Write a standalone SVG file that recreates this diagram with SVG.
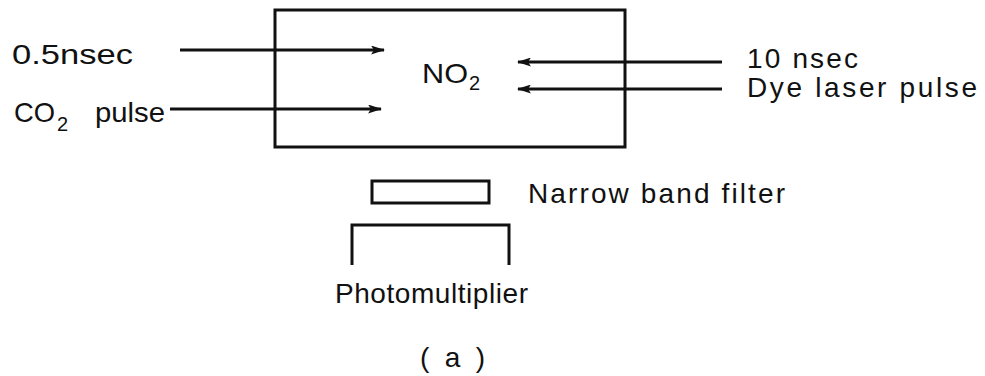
<svg xmlns="http://www.w3.org/2000/svg" width="985" height="376" viewBox="0 0 985 376">
<style>
text{font-family:"Liberation Sans",Arial,sans-serif;fill:#111;font-size:28px}
.sub{font-size:20px}
.ln{stroke:#111;stroke-width:3;fill:none}
</style>
<defs>
<marker id="ah" viewBox="0 0 14 9" refX="13" refY="4.5" markerWidth="14" markerHeight="9" markerUnits="userSpaceOnUse" orient="auto">
<path d="M0,0 L14,4.5 L0,9 L3,4.5 Z" fill="#111"/>
</marker>
</defs>
<rect width="985" height="376" fill="#fff"/>
<g id="cell">
<rect class="ln" x="275" y="10" width="350" height="137"/>
<text x="422" y="83" textLength="46" lengthAdjust="spacingAndGlyphs">NO</text>
<text class="sub" x="469" y="90">2</text>
</g>
<g id="co2-label">
<text x="12" y="64" textLength="121" lengthAdjust="spacingAndGlyphs">0.5nsec</text>
<text x="14" y="122" font-size="31" textLength="41" lengthAdjust="spacingAndGlyphs">CO</text>
<text class="sub" x="57" y="131">2</text>
<text x="95" y="122" textLength="70" lengthAdjust="spacingAndGlyphs">pulse</text>
</g>
<g id="dye-label">
<text x="747" y="68" textLength="111" lengthAdjust="spacing">10 nsec</text>
<text x="747" y="97" textLength="230" lengthAdjust="spacing">Dye laser pulse</text>
</g>
<g id="filter">
<rect class="ln" x="372" y="181" width="117" height="22"/>
<text x="528" y="203" textLength="257" lengthAdjust="spacing">Narrow band filter</text>
</g>
<g id="photomultiplier">
<path class="ln" d="M352,265 V225 H509 V265"/>
<text x="335" y="303" textLength="193" lengthAdjust="spacing">Photomultiplier</text>
</g>
<g id="caption">
<text x="420" y="367" font-size="38" textLength="65" lengthAdjust="spacing">(a)</text>
</g>
<g id="connectors">
<line class="ln" x1="180" y1="50" x2="384" y2="50" marker-end="url(#ah)"/>
<line class="ln" x1="170" y1="109" x2="381" y2="109" marker-end="url(#ah)"/>
<line class="ln" x1="722" y1="62" x2="518" y2="62" marker-end="url(#ah)"/>
<line class="ln" x1="722" y1="89" x2="518" y2="89" marker-end="url(#ah)"/>
</g>
</svg>
